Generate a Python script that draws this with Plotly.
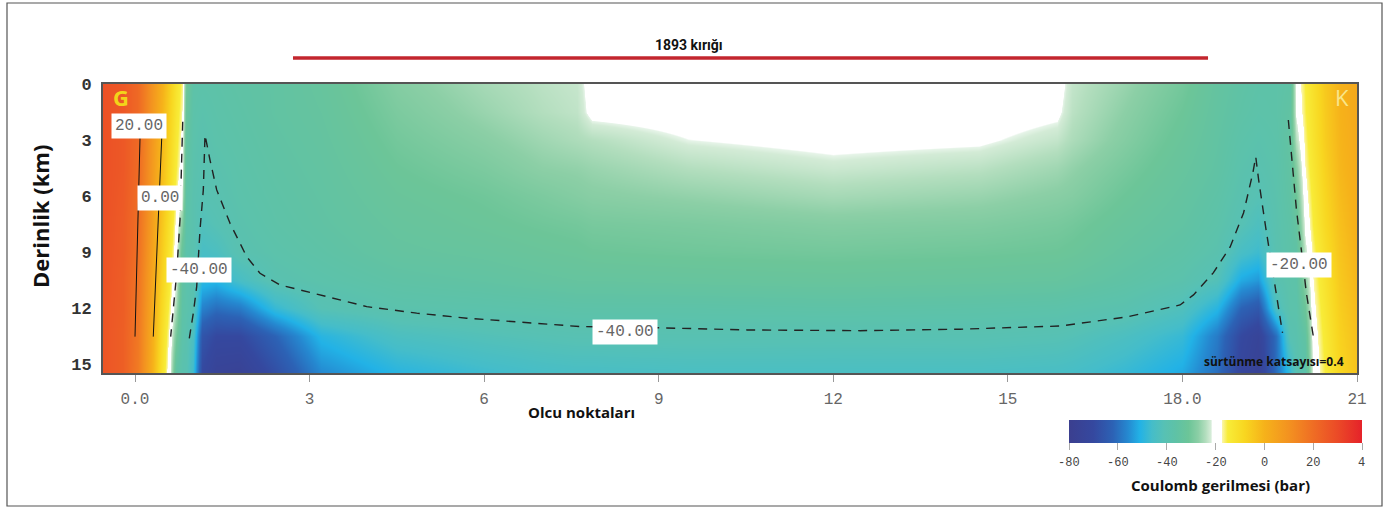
import plotly.graph_objects as go

# ---------------- data ----------------
# measurement points (x, along profile) and depths (km) of the stress grid
grid_x = [-0.55, -0.2, 0.05, 0.25, 0.45, 0.6, 0.7, 0.8, 0.88, 1.0, 1.15, 1.4, 1.8, 2.4, 3.2, 4.5,
          6.0, 7.0, 7.6, 7.85, 9.5, 12.0, 14.5, 15.85, 16.1, 17.0, 18.0, 18.6, 19.0, 19.3, 19.6,
          19.84, 19.95, 20.1, 20.25, 20.45, 20.7, 21.0]
grid_depth = [0, 1.5, 3, 4.5, 6, 7.5, 9, 10.5, 12, 13.5, 15.5]

# Coulomb stress (bar), one row per depth
stress = [
    [28, 26, 21, 11, 1.5, -6.5, -12, -16.5, -30, -37, -37.5, -37, -36, -35, -33, -28, -25, -23.5, -22.8, -20, -19, -18, -18.5, -20, -23, -26, -30, -34, -36, -37, -37, -36, -20, -15, -11, -5, 0, 3],
    [28, 26, 21, 10.5, 0.5, -7.5, -13, -17.5, -32, -37.5, -38.5, -37.5, -36.5, -35, -33.5, -29, -26, -24, -23.2, -20.5, -19.8, -19, -19.5, -20.8, -23.5, -27, -31, -34.5, -36.5, -37.5, -37, -35, -21, -15.5, -11.5, -5.5, 0, 3],
    [28, 26, 21, 10, -0.5, -8.5, -14, -18.5, -34, -38, -39.3, -38, -37, -35.5, -34, -30, -27.5, -25.5, -24.5, -24, -21.6, -20.5, -21, -23, -24.5, -28, -32, -35, -37.5, -38.5, -37.5, -34.5, -24, -16.5, -12, -6, -0.5, 2.5],
    [28, 26, 20.5, 9.5, -1.5, -9.5, -15, -20, -35, -38.5, -39.8, -39, -37.5, -36, -34.5, -31, -29, -27, -26.5, -26, -24, -22.5, -23.5, -25.5, -26.5, -29.5, -33, -35.5, -38.5, -39.5, -38, -35, -28, -17.5, -13, -7, -1, 2],
    [28, 25.5, 20, 9, -2.5, -10.5, -16.5, -22.5, -36, -39, -40.5, -39.8, -38, -36.5, -35, -32, -30.5, -29, -28, -27.5, -26.5, -25, -26, -27.5, -28, -31, -34, -36.5, -39.5, -41, -38.5, -35.5, -31, -19, -14, -8, -2, 1.5],
    [28, 25, 19.5, 8, -3.7, -12, -18.5, -28, -37, -39, -42.5, -41, -38.8, -37, -35.5, -33, -31.5, -30.5, -30, -29.5, -29, -28, -28.5, -29.5, -30, -32.5, -35, -37.5, -41, -43.5, -39, -36.5, -34, -20.5, -15, -9, -3, 1],
    [27.5, 25, 19, 7, -5, -13.5, -20, -33, -38, -39.5, -45, -44, -39.7, -38, -36.5, -34, -33, -32, -31.5, -31, -30.5, -30, -30.5, -31, -31.5, -34, -36.5, -39, -45, -47, -39.5, -37, -36, -23, -16.5, -10.5, -4, 0],
    [27.5, 24.5, 18, 6, -6.5, -15, -21.5, -35, -38, -39.5, -49, -50, -45, -39.6, -38, -36, -35, -34, -33.5, -33.5, -33, -32.5, -33, -33.5, -34, -36, -38.5, -42, -52, -54, -39.8, -37.5, -37, -27, -17.5, -12, -5, -1],
    [27, 24.5, 17.5, 5, -8, -17, -25, -36.5, -38, -40, -57, -60, -58, -48, -41, -38.5, -38, -37.5, -37, -37, -37, -36.5, -37, -37.5, -38, -39.2, -43, -50, -62, -65, -44, -38, -38, -31, -18.5, -13, -6, -2],
    [27, 24, 17, 4, -9.5, -19, -30, -37.5, -39, -44, -66, -70, -70, -62, -50, -44, -42, -41, -40.5, -40.5, -40.3, -40.5, -40.3, -41, -41.5, -44, -48, -58, -70, -74, -60, -40, -39, -35, -19.5, -14, -7, -3],
    [27, 24, 16, 3, -11, -21, -36, -39, -40, -47, -70, -75, -76, -68, -56, -50, -47, -45.5, -45, -45, -44.5, -44.5, -44.5, -45, -45.5, -48, -52, -60, -72, -76, -60, -48, -40, -38, -20.5, -15, -8, -4],
]

# contour lines (x, depth)
c20_x = [0.09, 0.086, 0.0]
c20_d = [2.0, 2.91, 13.55]
c0_x = [0.47, 0.459, 0.314]
c0_d = [2.0, 2.91, 13.55]
cm20L_x = [0.820, 0.802, 0.773, 0.717, 0.658, 0.613]
cm20L_d = [2.02, 4.61, 7.29, 10.13, 12.28, 13.55]
cm20R_x = [19.82, 19.88, 19.96, 20.05, 20.13, 20.25]
cm20R_d = [1.93, 4.08, 6.76, 9.06, 11.21, 13.55]
cm40_x = [0.933, 1.002, 1.060, 1.117, 1.174, 1.186, 1.203, 1.289, 1.404, 1.633, 1.919, 2.148, 2.492,
          3.064, 3.982, 4.841, 5.700, 6.273, 7.647, 9.073, 10.52, 12.46, 14.18, 15.90, 17.05, 17.96,
          18.19, 18.53, 18.82, 19.05, 19.21, 19.26, 19.31, 19.43, 19.57, 19.72]
cm40_d = [13.64, 12.29, 10.87, 7.83, 5.68, 4.08, 2.73, 4.08, 5.68, 7.47, 9.26, 10.15, 10.78,
          11.22, 11.94, 12.29, 12.56, 12.69, 13.01, 13.08, 13.19, 13.23, 13.15, 12.98, 12.49, 11.85,
          11.31, 10.13, 8.74, 6.92, 4.77, 3.91, 5.15, 7.67, 10.35, 13.35]

# contour labels
label_text = ["20.00", "0.00", "-40.00", "-40.00", "-20.00"]
label_x = [0.07, 0.438, 1.096, 8.42, 20.01]
label_d = [2.26, 6.09, 9.97, 13.32, 9.71]

# rupture extent (1893 event)
fault_start, fault_end = 2.715, 18.44

x_tickvals = [0, 3, 6, 9, 12, 15, 18, 21]
x_ticktext = ["0.0", "3", "6", "9", "12", "15", "18.0", "21"]
y_tickvals = [0, 3, 6, 9, 12, 15]

cb_tickvals = [-80, -60, -40, -20, 0, 20, 40]
cb_ticktext = ["-80", "-60", "-40", "-20", "0", "20", "4"]

# colour scale (value -> colour)
cs_vals = [-80, -70, -62, -56, -51, -46, -41, -36, -31, -27, -24, -22, -21.6, -21.5, -17.5, -17.4,
           -15, -8, 0, 10, 20, 30, 40]
cs_cols = ["#3b3f8f", "#35489f", "#2c62b5", "#2588d0", "#22b2e6", "#45bdc9", "#57c1b4", "#5fc2a5",
           "#6cc598", "#8ccfa6", "#b3debe", "#d3ebd6", "#e6f4e8", "#ffffff", "#ffffff", "#fbf6b0",
           "#f8ec38", "#f8d620", "#f6b21a", "#f39220", "#ef6d24", "#eb4a27", "#e5222a"]

# ---------------- figure ----------------
zmin, zmax = -80, 40
colorscale = [[(v - zmin) / (zmax - zmin), c] for v, c in zip(cs_vals, cs_cols)]

W, H = 1389, 510
L, R, T, B = 103, 32, 84, 137
pw, ph = W - L - R, H - T - B
CB_X0, CB_LEN = 1069, 293


def px(xp):
    return (xp - L) / pw


def py(yp):
    return (H - B - yp) / ph


fig = go.Figure()
fig.add_trace(go.Heatmap(
    x=grid_x, y=grid_depth, z=stress, zmin=zmin, zmax=zmax, zsmooth="best",
    colorscale=colorscale, hoverinfo="skip",
    colorbar=dict(
        orientation="h", x=px(CB_X0 + CB_LEN / 2), xanchor="center", len=CB_LEN / pw, lenmode="fraction",
        y=py(420), yanchor="top", thickness=23, xpad=0, ypad=0, outlinewidth=0,
        tickvals=cb_tickvals, ticks="outside", ticklen=7, showticklabels=False,
        tickcolor="#aaaaaa",
    ),
))

solid = dict(color="#111111", width=1)
dashed = dict(color="#222222", width=1.4, dash="9px,7px")
for xs, ds, ln in [(c20_x, c20_d, solid), (c0_x, c0_d, solid),
                   (cm20L_x, cm20L_d, dashed), (cm20R_x, cm20R_d, dashed), (cm40_x, cm40_d, dashed)]:
    fig.add_trace(go.Scatter(x=xs, y=ds, mode="lines", line=ln, hoverinfo="skip", showlegend=False))

annotations = []
for t, lx, ld in zip(label_text, label_x, label_d):
    annotations.append(dict(x=lx, y=ld, xref="x", yref="y", text=t, showarrow=False,
                            xanchor="center", yanchor="middle", bgcolor="white", borderpad=3,
                            font=dict(family="Liberation Mono, monospace", size=16, color="#666")))

# colour-bar tick labels, placed under each tick value
for v, t in zip(cb_tickvals, cb_ticktext):
    annotations.append(dict(x=px(CB_X0 + (v - zmin) / (zmax - zmin) * CB_LEN), y=py(463),
                            xref="paper", yref="paper", text=t, showarrow=False,
                            xanchor="center", yanchor="middle",
                            font=dict(family="Liberation Mono, monospace", size=12, color="#444")))


def txt(xp, yp, text, size, color="#111", family="Open Sans, sans-serif", **kw):
    d = dict(x=px(xp), y=py(yp), xref="paper", yref="paper", text=text, showarrow=False,
             xanchor="center", yanchor="middle", font=dict(family=family, size=size, color=color))
    d.update(kw)
    return d


annotations += [
    dict(x=(fault_start + fault_end) / 2 - 1.05, xref="x", y=py(45), yref="paper",
         text="<b>1893 kırığı</b>", showarrow=False, xanchor="center", yanchor="middle",
         font=dict(family="Roboto, sans-serif", size=14, color="#111")),
    txt(121, 97, "<b>G</b>", 22, color="#f2d41a"),
    txt(1342, 97, "K", 22, color="#f8e68a"),
    txt(1346, 361, "<b>sürtünme katsayısı=0.4</b>", 12, xanchor="right"),
    txt(40, 217, "<b>Derinlik (km)</b>", 22, textangle=-90),
    txt(581, 412, "<b>Olcu noktaları</b>", 15),
    txt(1220, 485, "<b>Coulomb gerilmesi (bar)</b>", 15),
]

shapes = [
    dict(type="line", xref="x", yref="paper", x0=fault_start, x1=fault_end, y0=py(58), y1=py(58),
         line=dict(color="#c3262e", width=3.5)),
    dict(type="rect", xref="paper", yref="paper", x0=px(7), x1=px(1382), y0=py(506), y1=py(3),
         line=dict(color="#555", width=1.2)),
]

fig.update_layout(
    width=W, height=H, margin=dict(l=L, r=R, t=T, b=B),
    paper_bgcolor="white", plot_bgcolor="white", showlegend=False,
    annotations=annotations, shapes=shapes,
    xaxis=dict(range=[-0.55, 21], tickvals=x_tickvals, ticktext=x_ticktext, showgrid=False,
               zeroline=False, ticks="outside", ticklen=7, tickcolor="#999", showline=True,
               linecolor="#555", linewidth=2, mirror=True, ticklabelstandoff=3,
               tickfont=dict(family="Liberation Mono, monospace", size=16, color="#666")),
    yaxis=dict(range=[15.5, 0], tickvals=y_tickvals, showgrid=False, zeroline=False,
               ticks="outside", ticklen=4, tickcolor="rgba(0,0,0,0)", showline=True,
               linecolor="#555", linewidth=2, mirror=True, ticklabelstandoff=2,
               tickfont=dict(family="Liberation Mono, monospace", size=17, color="#333", weight="bold")),
)

fig.write_html("out.html")
